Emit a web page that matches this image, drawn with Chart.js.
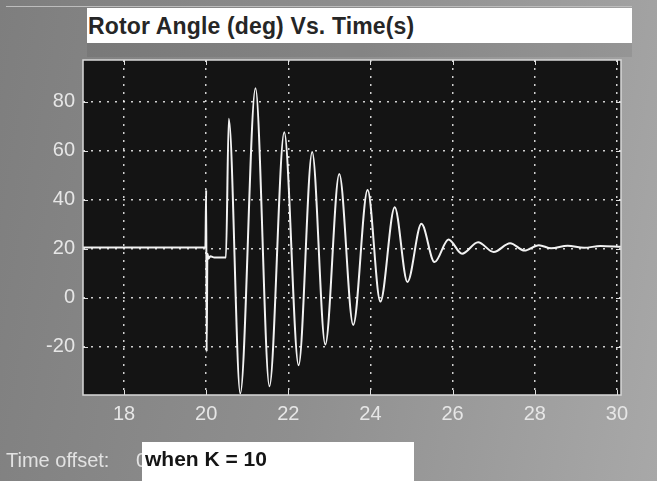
<!DOCTYPE html>
<html>
<head>
<meta charset="utf-8">
<title>Rotor Angle (deg) Vs. Time(s)</title>
<script src="https://cdn.jsdelivr.net/npm/chart.js@4.4.1/dist/chart.umd.min.js"></script>
<style>
  html, body { margin: 0; padding: 0; }
  body {
    width: 657px; height: 481px; overflow: hidden; position: relative;
    background: linear-gradient(100deg, #7e7e7e 0%, #8f8f8f 50%, #a8a8a8 100%);
    font-family: "Liberation Sans", Arial, sans-serif;
  }
  #wrap { position: absolute; left: 0; top: 0; width: 657px; height: 481px; }
  .top-line { position: absolute; left: 6px; top: 6px; width: 626px; height: 1px; background: #bdbdbd; }
  .under-title { position: absolute; left: 87px; top: 43px; width: 545px; height: 14px; background: rgba(0,0,0,0.07); }
  .title-box {
    position: absolute; left: 87px; top: 8px; width: 545px; height: 35px;
    background: #fff; color: #262626; font-weight: bold; font-size: 23px;
    line-height: 30px; padding: 3px 0 0 1px; box-sizing: border-box; white-space: nowrap;
    letter-spacing: 0.15px;
  }
  .offset {
    position: absolute; left: 6px; top: 449px; color: #e2e2e2; font-size: 20px;
    white-space: nowrap;
  }
  .offset-val { position: absolute; left: 136px; top: 449px; color: #e2e2e2; font-size: 20px; }
  .note-box {
    position: absolute; left: 142px; top: 442px; width: 272px; height: 39px;
    background: #fff; color: #151515; font-weight: bold; font-size: 21px;
    line-height: 34px; padding-left: 3px; box-sizing: border-box; white-space: nowrap;
  }
</style>
</head>
<body>
<div id="wrap"><canvas id="scope" width="657" height="481"></canvas></div>
<div class="top-line"></div>
<div class="under-title"></div>
<div class="title-box">Rotor Angle (deg) Vs. Time(s)</div>
<div class="offset">Time offset:</div>
<div class="offset-val">0</div>
<div class="note-box">when K = 10</div>
<script>
// time (s) and rotor angle (deg)
const times = [17, 19.98, 20.0, 20.01, 20.03, 20.06, 20.1, 20.2, 20.48, 20.55,
  20.83, 21.2, 21.54, 21.9, 22.25, 22.58, 22.9, 23.24, 23.58, 23.93,
  24.24, 24.59, 24.9, 25.24, 25.56, 25.9, 26.23, 26.62, 27.0, 27.4,
  27.75, 28.1, 28.4, 28.8, 29.2, 29.6, 30.1];
const angles = [20.5, 20.5, 44, -22, 18, 16, 17, 16.5, 16.5, 73,
  -39, 85.5, -36, 67.5, -27.5, 59.5, -19, 50.5, -11, 44,
  -1.5, 37, 6.5, 30.2, 14.6, 23.8, 18, 22.7, 18.7, 22.3,
  19.3, 21.5, 20.2, 21.3, 20.4, 21.2, 20.8];

const xTicks = [18, 20, 22, 24, 26, 28, 30];
const yTicks = [-20, 0, 20, 40, 60, 80];

const points = times.map((t, i) => ({ x: t, y: angles[i] }));

// black scope screen + border + inner tick marks
const scopeFrame = {
  id: "scopeFrame",
  beforeDraw(chart) {
    const { ctx, chartArea: a } = chart;
    ctx.save();
    ctx.fillStyle = "#141414";
    ctx.fillRect(a.left, a.top, a.right - a.left, a.bottom - a.top);
    ctx.restore();
  },
  afterDraw(chart) {
    const { ctx, chartArea: a } = chart;
    const xs = chart.scales.x, ys = chart.scales.y;
    ctx.save();
    ctx.strokeStyle = "#e0e0e0";
    ctx.lineWidth = 1;
    xTicks.forEach((v) => {
      const px = Math.round(xs.getPixelForValue(v)) + 0.5;
      ctx.beginPath();
      ctx.moveTo(px, a.bottom); ctx.lineTo(px, a.bottom - 5);
      ctx.moveTo(px, a.top); ctx.lineTo(px, a.top + 5);
      ctx.stroke();
    });
    yTicks.forEach((v) => {
      const py = Math.round(ys.getPixelForValue(v)) + 0.5;
      ctx.beginPath();
      ctx.moveTo(a.left, py); ctx.lineTo(a.left + 5, py);
      ctx.moveTo(a.right, py); ctx.lineTo(a.right - 5, py);
      ctx.stroke();
    });
    ctx.strokeStyle = "#d8d8d8";
    ctx.lineWidth = 1.5;
    ctx.strokeRect(a.left, a.top, a.right - a.left, a.bottom - a.top);
    ctx.restore();
  },
};

const tickFont = { family: "'Liberation Sans', Arial, sans-serif", size: 20 };

new Chart(document.getElementById("scope"), {
  type: "line",
  data: {
    datasets: [{
      data: points,
      borderColor: "#f2f2f2",
      borderWidth: 2,
      pointRadius: 0,
      cubicInterpolationMode: "monotone",
    }],
  },
  options: {
    responsive: false,
    animation: false,
    layout: { padding: { top: 60, right: 36, left: 0, bottom: 0 } },
    plugins: { legend: { display: false }, tooltip: { enabled: false } },
    scales: {
      x: {
        type: "linear",
        min: 17,
        max: 30.1,
        afterBuildTicks: (axis) => { axis.ticks = xTicks.map((v) => ({ value: v })); },
        afterFit: (axis) => { axis.height = 86; },
        grid: { color: "rgba(255,255,255,0.8)", lineWidth: 1.5, drawTicks: false },
        border: { display: false, dash: [2, 6] },
        ticks: { color: "#e6e6e6", font: tickFont, padding: 7, maxRotation: 0 },
      },
      y: {
        type: "linear",
        min: -39.6,
        max: 97,
        afterBuildTicks: (axis) => { axis.ticks = yTicks.map((v) => ({ value: v })); },
        afterFit: (axis) => { axis.width = 83; },
        grid: { color: "rgba(255,255,255,0.8)", lineWidth: 1.5, drawTicks: false },
        border: { display: false, dash: [2, 6] },
        ticks: { color: "#e6e6e6", font: tickFont, padding: 8 },
      },
    },
  },
  plugins: [scopeFrame],
});
</script>
</body>
</html>
